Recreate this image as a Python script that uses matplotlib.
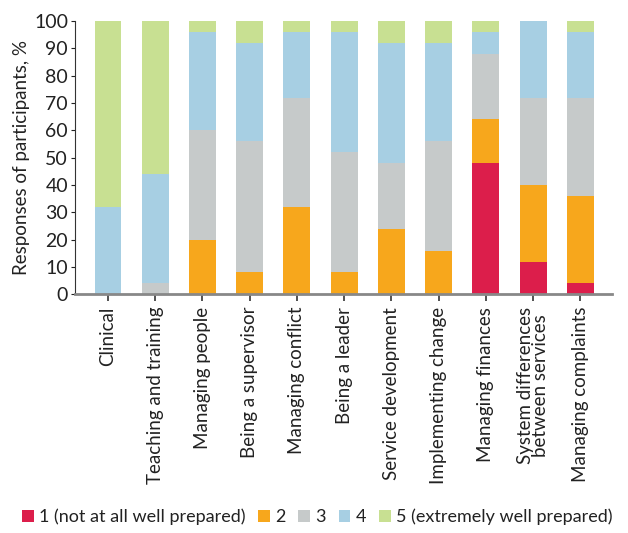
import numpy as np
import matplotlib
matplotlib.use("Agg")
import matplotlib.pyplot as plt

plt.rcParams['font.family'] = ['Lato', 'DejaVu Sans']

categories = ["Clinical", "Teaching and training", "Managing people", "Being a supervisor",
              "Managing conflict", "Being a leader", "Service development",
              "Implementing change", "Managing finances",
              "System differences\nbetween services", "Managing complaints"]

# percentage of participants per rating
r1 = [0, 0, 0, 0, 0, 0, 0, 0, 48, 12, 4]
r2 = [0, 0, 20, 8, 32, 8, 24, 16, 16, 28, 32]
r3 = [0, 4, 40, 48, 40, 44, 24, 40, 24, 32, 36]
r4 = [32, 40, 36, 36, 24, 44, 44, 36, 8, 28, 24]
r5 = [68, 56, 4, 8, 4, 4, 8, 8, 4, 0, 4]

labels = ["1 (not at all well prepared)", "2", "3", "4", "5 (extremely well prepared)"]
colors = ["#DC1E4B", "#F7A71C", "#C6CACA", "#A7CFE3", "#C8E092"]

fig = plt.figure(figsize=(6.28, 5.33), dpi=100)
ax = fig.add_axes([0.1194, 0.4478, 0.855, 0.5128])

x = np.arange(len(categories))
bottom = np.zeros(len(categories))
for vals, lab, col in zip([r1, r2, r3, r4, r5], labels, colors):
    ax.bar(x, vals, 0.57, bottom=bottom, color=col, label=lab)
    bottom += np.array(vals)

ax.set_xlim(-0.70, 10.67)
ax.set_ylim(0, 100)
ax.set_yticks(range(0, 101, 10))
ax.set_xticks(x)
ax.set_xticklabels(categories, rotation=90, fontsize=13.5, color="#222222",
                   linespacing=0.9)
ax.tick_params(axis="y", labelsize=14, length=3, width=0.8, pad=2, colors="#222222")
ax.tick_params(axis="x", length=5, width=1.2, pad=4, color="#333333")
ax.set_ylabel("Responses of participants, %", fontsize=13.5, color="#222222", labelpad=3)

for s in ["top", "right"]:
    ax.spines[s].set_visible(False)
ax.spines["left"].set_color("#333333")
ax.spines["left"].set_linewidth(0.8)
ax.spines["bottom"].set_color("#888888")
ax.spines["bottom"].set_linewidth(2)

leg = fig.legend(loc="lower center", bbox_to_anchor=(0.505, -0.012), ncol=5, frameon=False,
                 fontsize=13, handlelength=0.65, handleheight=0.65, handletextpad=0.3,
                 columnspacing=0.7, borderaxespad=0.4)
for t in leg.get_texts():
    t.set_color("#222222")

fig.savefig("out.png", dpi=100)
plt.close(fig)
